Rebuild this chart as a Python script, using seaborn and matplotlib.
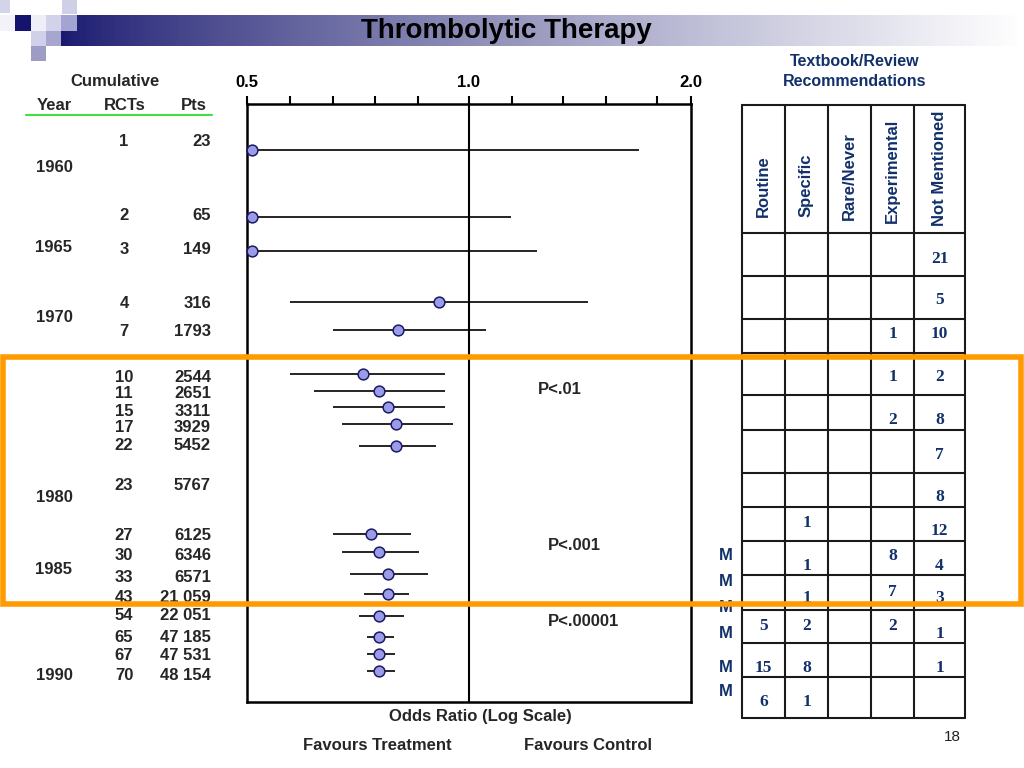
import numpy as np
import pandas as pd
import matplotlib
matplotlib.use("Agg")
import matplotlib.pyplot as plt
from matplotlib.patches import Rectangle
import seaborn as sns

# cumulative meta-analysis data
rcts = [1, 2, 3, 4, 7, 10, 11, 15, 17, 22, 23, 27, 30, 33, 43, 54, 65, 67, 70]
pts = ["23", "65", "149", "316", "1793", "2544", "2651", "3311", "3929", "5452",
       "5767", "6125", "6346", "6571", "21 059", "22 051", "47 185", "47 531", "48 154"]
odds = [0.508, 0.508, 0.508, 0.91, 0.80, 0.718, 0.755, 0.776, 0.796, 0.796,
        np.nan, 0.736, 0.755, 0.776, 0.776, 0.755, 0.755, 0.755, 0.755]
ci_lo = [0.5, 0.5, 0.5, 0.572, 0.654, 0.572, 0.616, 0.654, 0.673, 0.709,
         np.nan, 0.654, 0.673, 0.690, 0.72, 0.709, 0.727, 0.727, 0.727]
ci_hi = [1.70, 1.14, 1.236, 1.45, 1.055, 0.928, 0.928, 0.928, 0.951, 0.902,
         np.nan, 0.834, 0.855, 0.88, 0.829, 0.816, 0.791, 0.793, 0.793]
years = ["1960", "1965", "1970", "1980", "1985", "1990"]

# textbook / review recommendations per row
rec_cols = ["Routine", "Specific", "Rare/Never", "Experimental", "Not Mentioned"]
routine = ["", "", "", "", "", "", "", "", "", "", "5", "15", "6"]
specific = ["", "", "", "", "", "", "", "1", "1", "1", "2", "8", "1"]
rare_never = ["", "", "", "", "", "", "", "", "", "", "", "", ""]
experimental = ["", "", "1", "1", "2", "", "", "", "8", "7", "2", "", ""]
not_mentioned = ["21", "5", "10", "2", "8", "7", "8", "12", "4", "3", "1", "1", ""]
p_labels = ["P<.01", "P<.001", "P<.00001"]
tick_vals = [0.5, 0.572, 0.654, 0.746, 0.853, 1.0, 1.144, 1.341, 1.534, 1.80, 2.0]

# layout (slide pixel coordinates)
row_y = [150, 217, 251, 302, 330, 374, 391, 407, 424, 446, 485,
         534, 552, 574, 594, 616, 637, 654, 671]
text_y = [142, 215, 250, 303, 331, 377, 394, 411, 428, 446, 485,
          535, 556, 577, 598, 616, 637, 655, 676]
year_y = [168, 247, 318, 497, 569, 676]
table_x = [742, 785, 828, 871, 914, 965]
table_y = [105, 233, 276, 319, 353, 395, 430, 473, 507, 541, 575, 610, 643, 677, 718]
rec_text_y = [259, 300, 334, 377, 420, 455, 497, 523, 566, 598, 626, 668, 702]
rec_nudge = {(7, 4): 8, (8, 3): -10, (9, 3): -6, (10, 4): 8}
m_y = [556, 582, 608, 633, 668, 692]

sns.set_theme(style="white")
plt.rcParams['font.family'] = ['Liberation Sans', 'DejaVu Sans']

NAVY = "#12306a"
FS = 12
fig = plt.figure(figsize=(10.24, 7.68), dpi=100)

# forest plot axes
W, H = 1024, 768
ax = fig.add_axes([247 / W, 1 - 702 / H, (691 - 247) / W, (702 - 104) / H])
ax.set_xscale('log')
ax.set_xlim(0.5, 2.0)
ax.set_ylim(702, 104)

df = pd.DataFrame({"odds": odds, "lo": ci_lo, "hi": ci_hi, "y": row_y})
ax.hlines(df["y"], df["lo"], df["hi"], color="black", lw=1.2, zorder=2)
sns.scatterplot(data=df, x="odds", y="y", ax=ax, color="#9b9be8",
                edgecolor="#1a1a66", linewidth=1.1, s=60, zorder=3, clip_on=False)
ax.axvline(1.0, color="black", lw=1.5, zorder=1)

ax.xaxis.tick_top()
ax.set_xticks(tick_vals)
ax.set_xticklabels(["0.5", "", "", "", "", "1.0", "", "", "", "", "2.0"])
ax.xaxis.set_minor_locator(matplotlib.ticker.NullLocator())
ax.tick_params(axis='x', top=True, bottom=False, direction='out', length=6,
               width=1.5, pad=4, labelsize=FS, colors="black")
for lab in ax.get_xticklabels():
    lab.set_fontweight('bold')
ax.set_yticks([])
ax.set_xlabel("")
ax.set_ylabel("")
for sp in ax.spines.values():
    sp.set_color("black")
    sp.set_linewidth(1.8)

# overlay in slide pixels
ov = fig.add_axes([0, 0, 1, 1], zorder=5)
ov.patch.set_alpha(0)
ov.axis('off')

# title bar gradient and logo squares
grad = np.linspace(0, 1, 256) ** 0.8
c0 = np.array([0.10, 0.10, 0.44])
c1 = np.array([1.0, 1.0, 1.0])
img = (c0[None, :] * (1 - grad[:, None]) + c1[None, :] * grad[:, None])[None, :, :]
ov.imshow(img, extent=[61, 1024, 46, 15], aspect='auto', zorder=0)
squares = [((0, 0, 10, 13), "#d3d3ea"), ((62, 0, 15, 14), "#cfcfe8"),
           ((0, 15, 15, 16), "#f2f2f8"), ((15, 15, 16, 16), "#14146e"),
           ((31, 15, 15, 16), "#eeeef6"), ((46, 15, 15, 16), "#d2d2ea"),
           ((61, 15, 16, 16), "#a4a4d2"), ((31, 31, 15, 15), "#d0d0e8"),
           ((46, 31, 15, 15), "#a6a6cf"), ((31, 46, 15, 15), "#9c9cc4")]
for (x, y, w, h), c in squares:
    ov.add_patch(Rectangle((x, y), w, h, color=c, lw=0, zorder=1))
ov.text(506, 31, "Thrombolytic Therapy", fontsize=20, fontweight='bold',
        ha='center', va='center', color="black", zorder=2)

# left columns
ov.text(115, 82, "Cumulative", fontsize=FS, fontweight='bold', ha='center', va='center')
ov.text(54, 105, "Year", fontsize=FS, fontweight='bold', ha='center', va='center')
ov.text(125, 105, "RCTs", fontsize=FS, fontweight='bold', ha='center', va='center')
ov.text(194, 105, "Pts", fontsize=FS, fontweight='bold', ha='center', va='center')
ov.plot([26, 212], [115, 115], color="#44dd44", lw=1.5)
for yr, y in zip(years, year_y):
    ov.text(54, y, yr, fontsize=FS, fontweight='bold', ha='center', va='center')
for n, p, y in zip(rcts, pts, text_y):
    ov.text(124, y, str(n), fontsize=FS, fontweight='bold', ha='center', va='center')
    ov.text(211, y, p, fontsize=FS, fontweight='bold', ha='right', va='center')

# p-values and axis captions
for lab, (x, y) in zip(p_labels, [(538, 390), (548, 545), (548, 622)]):
    ov.text(x, y, lab, fontsize=FS, fontweight='bold', ha='left', va='center')
ov.text(480, 716, "Odds Ratio (Log Scale)", fontsize=FS, fontweight='bold', ha='center', va='center')
ov.text(377, 745, "Favours Treatment", fontsize=FS, fontweight='bold', ha='center', va='center')
ov.text(588, 745, "Favours Control", fontsize=FS, fontweight='bold', ha='center', va='center')
ov.text(952, 737, "18", fontsize=11, ha='center', va='center', color="#222222")

# recommendations table
ov.text(855, 62, "Textbook/Review", fontsize=11.5, fontweight='bold', ha='center', va='center', color=NAVY)
ov.text(855, 82, "Recommendations", fontsize=11.5, fontweight='bold', ha='center', va='center', color=NAVY)
for x in table_x:
    ov.plot([x, x], [table_y[0], table_y[-1]], color="#1a1a1a", lw=1.5)
for y in table_y:
    ov.plot([table_x[0], table_x[-1]], [y, y], color="#1a1a1a", lw=1.5)
header_bottom = [217, 217, 220, 223, 226]
for i, name in enumerate(rec_cols):
    cx = (table_x[i] + table_x[i + 1]) / 2
    ov.text(cx, header_bottom[i], name, rotation=90, fontsize=FS, fontweight='bold',
            ha='center', va='bottom', color=NAVY)
for c, col in enumerate([routine, specific, rare_never, experimental, not_mentioned]):
    cx = (table_x[c] + table_x[c + 1]) / 2
    for r, val in enumerate(col):
        if val:
            y = rec_text_y[r] + rec_nudge.get((r, c), 0)
            ov.text(cx, y, val, fontsize=12.5, fontweight='bold', ha='center', va='center',
                    color=NAVY, family=['Liberation Serif', 'DejaVu Serif'])
for y in m_y:
    ov.text(726, y, "M", fontsize=FS, fontweight='bold', ha='center', va='center', color=NAVY)

# orange highlight frame
ov.add_patch(Rectangle((3, 357), 1018, 247, fill=False, edgecolor="#ff9a00", lw=4, zorder=10))

ov.set_xlim(0, W)
ov.set_ylim(H, 0)

fig.savefig("out.png", dpi=100)
